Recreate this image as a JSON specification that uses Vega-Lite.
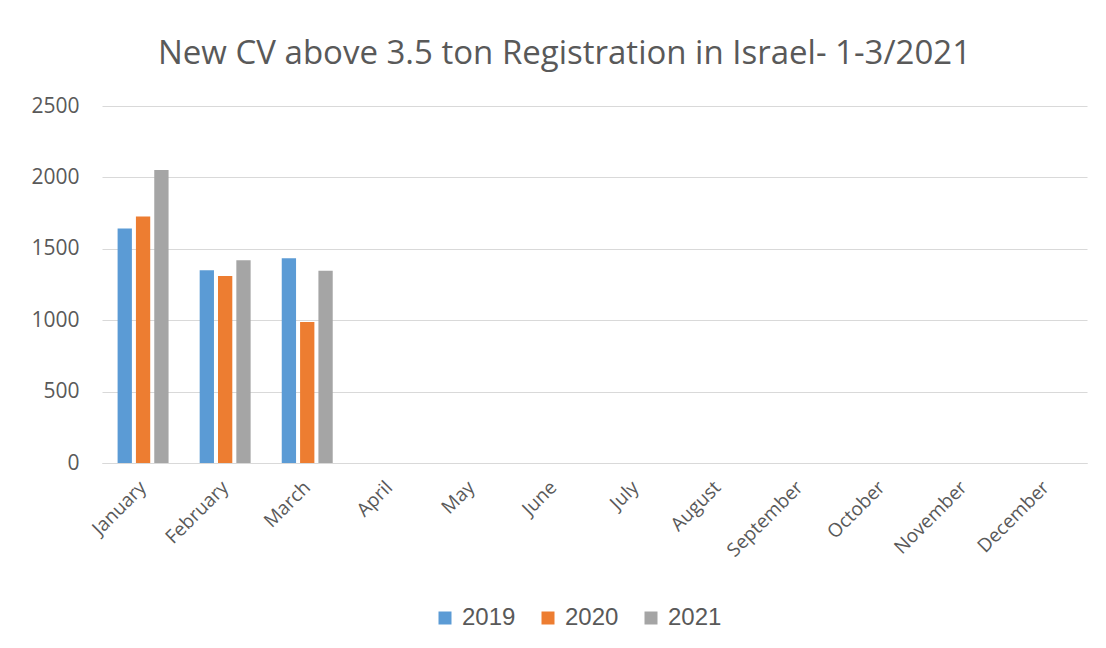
{
  "$schema": "https://vega.github.io/schema/vega-lite/v6.json",
  "autosize": {"type": "none"},
  "width": 985,
  "height": 357,
  "padding": {"left": 102, "top": 106, "right": 19, "bottom": 185},
  "background": "white",
  "title": {
    "text": "New CV above 3.5 ton Registration in Israel- 1-3/2021",
    "font": "Open Sans",
    "fontSize": 33,
    "fontWeight": "normal",
    "color": "#595959",
    "anchor": "middle",
    "frame": "group",
    "baseline": "alphabetic",
    "offset": -2,
    "dx": -30
  },
  "data": {
    "values": [
      {"month": "January", "year": "2019", "value": 1643},
      {"month": "January", "year": "2020", "value": 1727},
      {"month": "January", "year": "2021", "value": 2051},
      {"month": "February", "year": "2019", "value": 1349},
      {"month": "February", "year": "2020", "value": 1309},
      {"month": "February", "year": "2021", "value": 1420},
      {"month": "March", "year": "2019", "value": 1434},
      {"month": "March", "year": "2020", "value": 987},
      {"month": "March", "year": "2021", "value": 1346}
    ]
  },
  "mark": {"type": "bar"},
  "encoding": {
    "x": {
      "field": "month",
      "type": "nominal",
      "sort": null,
      "scale": {
        "domain": ["January", "February", "March", "April", "May", "June", "July", "August", "September", "October", "November", "December"],
        "paddingInner": 0.379,
        "paddingOuter": 0.19
      },
      "axis": {
        "title": null,
        "labelAngle": -45,
        "labelAlign": "right",
        "labelBaseline": "middle",
        "labelFont": "Open Sans",
        "labelFontSize": 19,
        "labelColor": "#595959",
        "labelPadding": 21,
        "ticks": false,
        "domainColor": "#d9d9d9",
        "domainWidth": 1,
        "grid": false
      }
    },
    "xOffset": {
      "field": "year",
      "type": "nominal",
      "scale": {"paddingInner": 0.22, "paddingOuter": 0}
    },
    "y": {
      "field": "value",
      "type": "quantitative",
      "scale": {"domain": [0, 2500], "nice": false},
      "axis": {
        "title": null,
        "values": [0, 500, 1000, 1500, 2000, 2500],
        "format": "d",
        "labelFont": "Open Sans",
        "labelFontSize": 21,
        "labelColor": "#595959",
        "labelPadding": 23,
        "ticks": false,
        "domain": false,
        "gridColor": "#d9d9d9",
        "gridWidth": 1
      }
    },
    "color": {
      "field": "year",
      "type": "nominal",
      "scale": {"domain": ["2019", "2020", "2021"], "range": ["#5B9BD5", "#ED7D31", "#A5A5A5"]},
      "legend": {
        "title": null,
        "orient": "none",
        "direction": "horizontal",
        "legendX": 331,
        "legendY": 500,
        "symbolType": "square",
        "symbolSize": 169,
        "symbolStrokeWidth": 0,
        "labelFont": "Liberation Sans",
        "labelFontSize": 24,
        "labelColor": "#595959",
        "labelOffset": 5,
        "columnPadding": 20,
        "padding": 0
      }
    }
  },
  "config": {
    "view": {"stroke": null}
  }
}
